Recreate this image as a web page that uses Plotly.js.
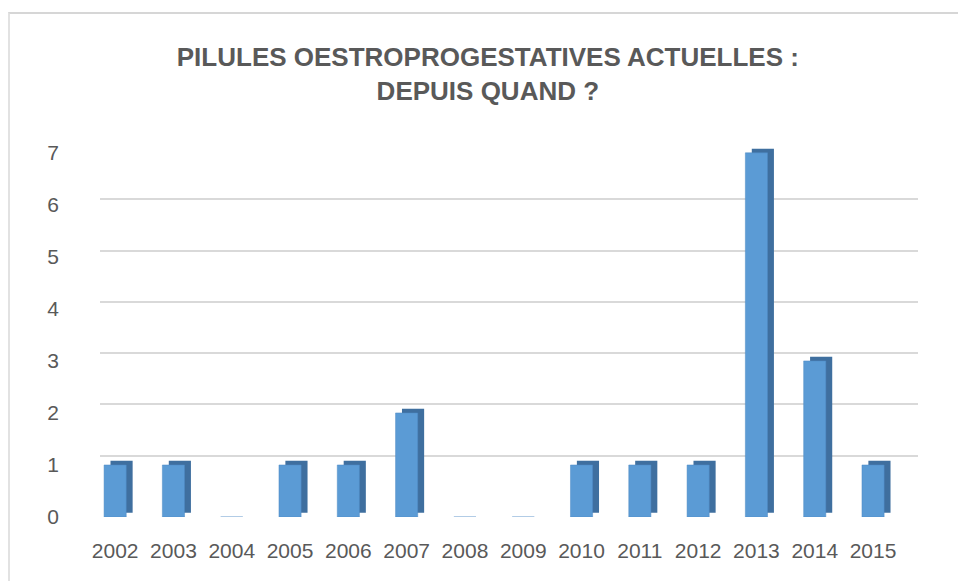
<!DOCTYPE html>
<html>
<head>
<meta charset="utf-8">
<script src="https://cdn.plot.ly/plotly-3.0.1.min.js"></script>
<style>
  html, body { margin: 0; padding: 0; background: #ffffff; }
  #wrap { position: relative; width: 958px; height: 581px; overflow: hidden; }
  #chart { width: 958px; height: 581px; }
  #frame { position: absolute; left: 8px; top: 12px; width: 960px; height: 580px;
           border-top: 2px solid #d6d6d6; border-left: 2px solid #e2e2e2; pointer-events: none; }
</style>
</head>
<body>
<div id="wrap">
  <div id="chart"></div>
  <div id="frame"></div>
</div>
<script>
// Data
const years = ["2002","2003","2004","2005","2006","2007","2008","2009","2010","2011","2012","2013","2014","2015"];
const counts = [1, 1, 0, 1, 1, 2, 0, 0, 1, 1, 1, 7, 3, 1];
const yTicks = [0, 1, 2, 3, 4, 5, 6, 7];
const titleText = "PILULES OESTROPROGESTATIVES ACTUELLES :<br>DEPUIS QUAND ?";

const font = "Liberation Sans, Arial, Helvetica, sans-serif";
const grey = "#595959";

// back wall (gridlines only)
const wallTrace = {
  type: "scatter", x: years, y: counts, mode: "none",
  hoverinfo: "skip", showlegend: false, xaxis: "x", yaxis: "y"
};
// bar side / top faces
const sideTrace = {
  type: "bar", x: years, y: counts, base: 0.08,
  width: 0.38, offset: -0.08,
  marker: { color: "#3f6f9f", line: { width: 0 } },
  hoverinfo: "skip", showlegend: false, xaxis: "x2", yaxis: "y2"
};
// bar front faces
const frontTrace = {
  type: "bar", x: years, y: counts,
  width: 0.38, offset: -0.19,
  marker: { color: "#5b9bd5", line: { width: 0.5, color: "#4f8bc4" } },
  showlegend: false, xaxis: "x2", yaxis: "y2", name: ""
};

const layout = {
  width: 958, height: 581,
  margin: { l: 86, r: 40, t: 145, b: 64 },
  paper_bgcolor: "#ffffff", plot_bgcolor: "rgba(0,0,0,0)",
  barmode: "overlay",
  font: { family: font, color: grey, size: 21 },
  title: {
    text: titleText,
    font: { family: font, size: 26, color: grey, weight: "bold" },
    x: 0.483, xanchor: "center", xref: "paper",
    y: 0.886, yanchor: "middle", yref: "container"
  },
  xaxis: {
    domain: [0.0168, 1], type: "category", range: [-0.5, 13.5],
    showgrid: false, zeroline: false, showline: false, showticklabels: false,
    anchor: "y", fixedrange: true
  },
  yaxis: {
    domain: [0.0269, 0.992], range: [0, 7], tickvals: yTicks,
    showgrid: true, gridcolor: "#d9d9d9", gridwidth: 2,
    zeroline: false, showline: false, showticklabels: false,
    anchor: "x", fixedrange: true
  },
  xaxis2: {
    domain: [0, 0.981], type: "category", range: [-0.5, 13.5],
    showgrid: false, zeroline: false, showline: false, ticks: "",
    tickfont: { family: font, size: 21, color: grey },
    ticklabelstandoff: 19, anchor: "y2", fixedrange: true
  },
  yaxis2: {
    domain: [0, 1], range: [0, 7.15], tickvals: yTicks,
    showgrid: false, zeroline: false, showline: false, ticks: "",
    tickfont: { family: font, size: 21, color: grey },
    ticklabelstandoff: 26, anchor: "x2", fixedrange: true
  }
};

Plotly.newPlot("chart", [wallTrace, sideTrace, frontTrace], layout, { displayModeBar: false, staticPlot: true });
</script>
</body>
</html>
